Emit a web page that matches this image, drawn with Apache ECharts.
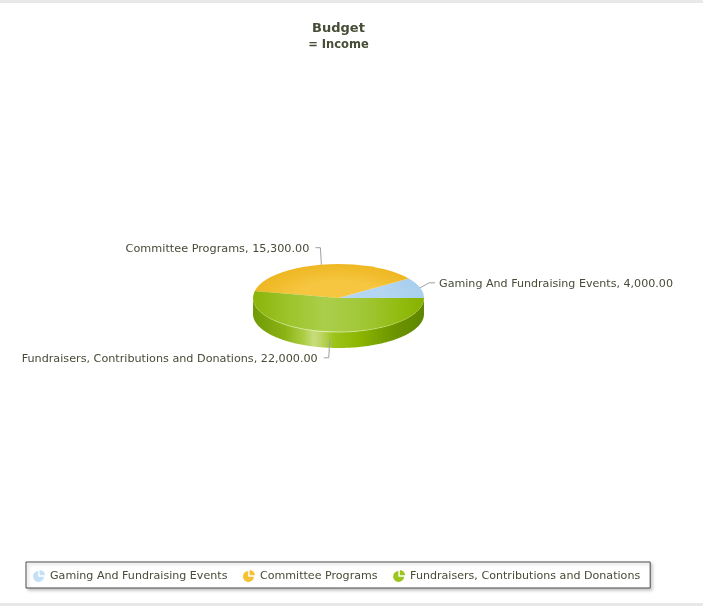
<!DOCTYPE html>
<html>
<head>
<meta charset="utf-8">
<style>html,body{margin:0;padding:0;background:#fff}#c{width:703px;height:606px}</style>
<script src="https://cdn.jsdelivr.net/npm/echarts@6/dist/echarts.min.js"></script>
</head>
<body>
<div id="c"></div>
<script>
var titleText = 'Budget';
var subtitleText = '= Income';
var categories = ['Gaming And Fundraising Events', 'Committee Programs', 'Fundraisers, Contributions and Donations'];
var values = [4000, 15300, 22000];
var valueLabels = ['4,000.00', '15,300.00', '22,000.00'];

var palette = [
  {legend: '#c4e0f7', stops: ['#b4d6f2', '#a8cfee']},
  {legend: '#f6c233', stops: ['#f6c640', '#eeb722']},
  {legend: '#9cc61e', stops: null}
];
var CX = 338.5, CY = 298, RX = 85.5, RY = 34, DEPTH = 16;
var TEXT = '#464c36';
var total = values.reduce(function (a, b) { return a + b; }, 0);
var LG = echarts.graphic.LinearGradient, RG = echarts.graphic.RadialGradient;

// leader: elbow offset from rim anchor, direction of the horizontal run
var leaders = [
  {rim: 0, elbow: [9, -5], run: 6, gap: 4, size: 11.1},
  {rim: 0, elbow: [-1, -17], run: -5, gap: 6, size: 11.25},
  {rim: 8, elbow: [-1, 18], run: -5, gap: 6, size: 11.2}
];

function ptAt(deg, k) {
  var a = deg * Math.PI / 180;
  return [CX + RX * k * Math.cos(a), CY - RY * k * Math.sin(a)];
}
function startAngleOf(i) {
  var s = 0;
  for (var j = 0; j < i; j++) s += values[j];
  return s / total * 360;
}
function topFill(i) {
  if (i === 2) {
    return new LG(-RX, 0, RX, 0, [
      {offset: 0, color: '#8ab408'}, {offset: 0.2, color: '#9cc42a'},
      {offset: 0.42, color: '#abce4a'}, {offset: 0.62, color: '#a2c83a'},
      {offset: 0.85, color: '#93bc12'}, {offset: 1, color: '#87b000'}
    ], true);
  }
  return new RG(0, 0, RX, [
    {offset: 0, color: palette[i].stops[0]}, {offset: 0.5, color: palette[i].stops[0]}, {offset: 1, color: palette[i].stops[1]}
  ], true);
}
function sideFill() {
  return new LG(CX - RX, 0, CX + RX, 0, [
    {offset: 0, color: '#6f9a05'}, {offset: 0.19, color: '#8db416'},
    {offset: 0.29, color: '#a9cc40'}, {offset: 0.355, color: '#c8dd7c'},
    {offset: 0.4, color: '#bcd562'}, {offset: 0.47, color: '#9cc41c'},
    {offset: 0.62, color: '#8cb600'}, {offset: 0.82, color: '#6d9500'},
    {offset: 1, color: '#5e8600'}
  ], true);
}
function rimStroke() {
  return new LG(CX - RX, 0, CX + RX, 0, [
    {offset: 0, color: 'rgba(220,235,160,0)'}, {offset: 0.15, color: 'rgba(220,235,160,0.45)'},
    {offset: 0.42, color: 'rgba(232,244,190,0.85)'}, {offset: 0.75, color: 'rgba(220,235,160,0.4)'},
    {offset: 1, color: 'rgba(220,235,160,0)'}
  ], true);
}
function renderSlice(i) {
  return function (params, api) {
    var v = api.value(0);
    var a0 = startAngleOf(i), a1 = a0 + v / total * 360, mid = (a0 + a1) / 2;
    var children = [];
    // visible wall: the part of this slice on the front half of the ellipse
    var s0 = Math.max(a0, 180), s1 = Math.min(a1, 360), rim = null;
    if (s1 > s0) {
      var upper = [], lower = [];
      for (var d = s0; d <= s1; d += 1) {
        var p = ptAt(d, 1);
        upper.push(p);
        lower.unshift([p[0], p[1] + DEPTH]);
      }
      rim = upper;
      children.push({type: 'polygon', shape: {points: upper.concat(lower)}, style: {fill: sideFill()}});
    }
    children.push({
      type: 'sector', x: CX, y: CY, scaleY: RY / RX,
      shape: {cx: 0, cy: 0, r0: 0, r: RX, startAngle: -a0 * Math.PI / 180, endAngle: -a1 * Math.PI / 180, clockwise: false},
      style: {fill: topFill(i)}
    });
    if (rim) {
      children.push({type: 'polyline', shape: {points: rim}, style: {fill: null, stroke: rimStroke(), lineWidth: 1}});
    }
    var L = leaders[i], anchor = ptAt(mid, 1);
    anchor = [anchor[0], anchor[1] + L.rim];
    var elbow = [anchor[0] + L.elbow[0], anchor[1] + L.elbow[1]];
    var end = [elbow[0] + L.run, elbow[1]];
    children.push({type: 'polyline', shape: {points: [anchor, elbow, end]}, style: {fill: null, stroke: '#a0a0a0', lineWidth: 1}});
    children.push({
      type: 'text', x: end[0] + (L.run > 0 ? L.gap : -L.gap), y: end[1] + 1,
      style: {
        text: categories[i] + ', ' + valueLabels[i],
        font: L.size + 'px "DejaVu Sans"', fill: TEXT,
        align: L.run > 0 ? 'left' : 'right', verticalAlign: 'middle'
      }
    });
    return {type: 'group', children: children};
  };
}

// pie with a wedge pulled out towards the upper right
var PIE_ICON = 'path://M44 8 L44 56 L92 56 A46 46 0 1 1 44 8 Z M56 0 A44 44 0 0 1 100 44 L56 44 Z';

var chart = echarts.init(document.getElementById('c'), null, {renderer: 'canvas'});
chart.setOption({
  animation: false,
  backgroundColor: '#fff',
  title: {
    text: titleText, subtext: subtitleText, left: 338.5, textAlign: 'center', top: 22, itemGap: 4, padding: 0,
    textStyle: {fontFamily: 'DejaVu Sans', fontSize: 13, fontWeight: 'bold', color: TEXT},
    subtextStyle: {fontFamily: 'DejaVu Sans', fontSize: 11.5, fontWeight: 'bold', color: TEXT}
  },
  legend: {
    left: 26, top: 562, orient: 'horizontal', padding: [8, 10, 6, 7], itemGap: 15.5, itemWidth: 12, itemHeight: 12,
    backgroundColor: '#fff', borderColor: '#4a4a4a', borderWidth: 1,
    shadowColor: 'rgba(0,0,0,0.22)', shadowBlur: 3, shadowOffsetX: 2, shadowOffsetY: 2,
    textStyle: {fontFamily: 'DejaVu Sans', fontSize: 11.1, color: TEXT},
    selectedMode: false,
    data: categories.map(function (c, i) {
      return {name: c, icon: PIE_ICON, itemStyle: {color: palette[i].legend}};
    })
  },
  graphic: [
    {type: 'rect', shape: {x: 0, y: 0, width: 703, height: 3}, style: {fill: '#e8e8e8'}, silent: true},
    {type: 'rect', shape: {x: 0, y: 603, width: 703, height: 3}, style: {fill: '#e8e8e8'}, silent: true}
  ],
  series: categories.map(function (c, i) {
    return {
      type: 'custom', name: c, coordinateSystem: 'none', silent: true, z: i === 2 ? 3 : 2,
      itemStyle: {color: palette[i].legend},
      renderItem: renderSlice(i),
      data: [[values[i]]]
    };
  })
});
</script>
</body>
</html>
